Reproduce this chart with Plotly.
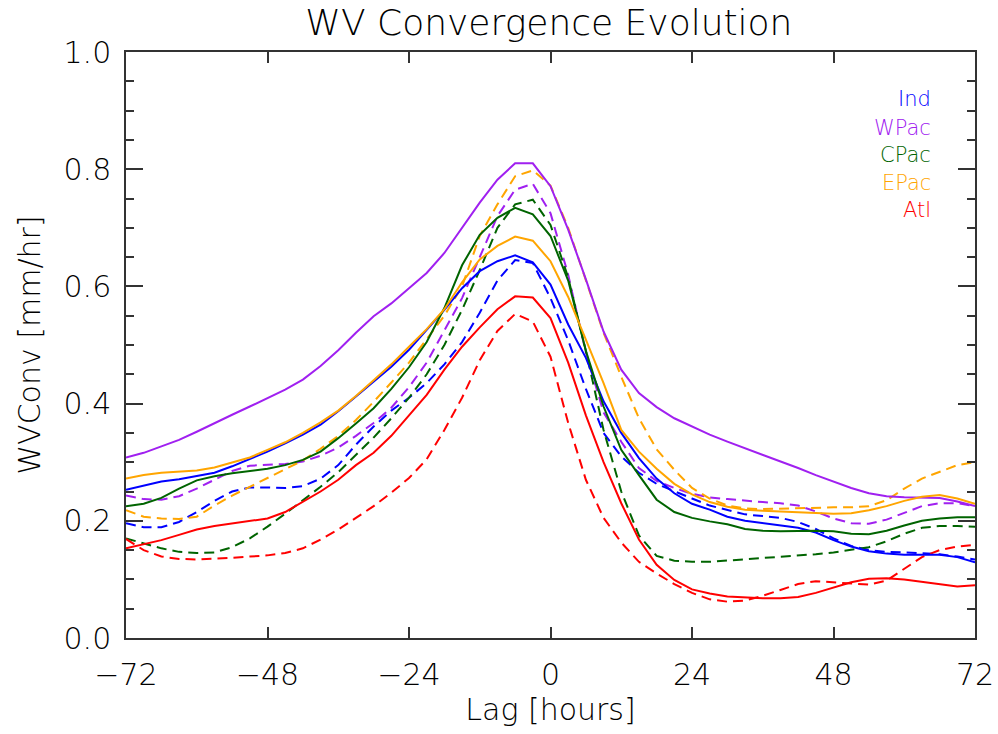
import plotly.graph_objects as go

lag = [-72, -69, -66, -63, -60, -57, -54, -51, -48, -45, -42, -39, -36, -33, -30, -27, -24,
       -21, -18, -15, -12, -9, -6, -3, 0, 3, 6, 9, 12, 15, 18, 21, 24, 27, 30, 33, 36, 39,
       42, 45, 48, 51, 54, 57, 60, 63, 66, 69, 72]

ind_solid = [.253, .260, .267, .271, .276, .282, .293, .305, .318, .332, .347, .364, .387, .412, .437,
             .463, .492, .526, .560, .597, .626, .643, .653, .641, .603, .535, .478, .404, .350, .307,
             .272, .247, .229, .219, .207, .200, .196, .193, .188, .180, .167, .156, .148, .144, .142,
             .142, .142, .138, .129]
ind_dash = [.196, .189, .189, .198, .215, .234, .250, .257, .257, .256, .259, .272, .295, .330, .361,
            .388, .410, .435, .467, .505, .555, .610, .645, .640, .580, .508, .425, .350, .310, .282,
            .263, .250, .238, .226, .219, .211, .208, .205, .198, .186, .170, .157, .150, .147, .146,
            .145, .143, .139, .134]

wpac_solid = [.308, .316, .327, .338, .352, .367, .381, .395, .410, .424, .441, .464, .491, .521, .549,
              .571, .597, .623, .657, .700, .743, .782, .810, .810, .771, .697, .612, .523, .458, .418,
              .394, .375, .361, .347, .335, .324, .313, .302, .290, .278, .267, .256, .247, .242, .240,
              .239, .239, .233, .225]
wpac_dash = [.243, .237, .236, .242, .255, .270, .285, .294, .296, .297, .301, .311, .325, .345, .367,
             .393, .428, .470, .525, .580, .650, .720, .765, .775, .725, .620, .487, .385, .335, .290,
             .268, .256, .246, .240, .237, .234, .232, .230, .226, .216, .204, .196, .195, .202, .213,
             .225, .230, .230, .225]

cpac_solid = [.225, .229, .239, .255, .269, .276, .281, .285, .289, .295, .304, .318, .341, .366, .392,
              .425, .462, .505, .563, .636, .688, .717, .734, .723, .686, .610, .490, .395, .321, .278,
              .236, .215, .205, .199, .194, .186, .183, .182, .183, .183, .182, .178, .177, .183, .192,
              .200, .204, .206, .206]
cpac_dash = [.170, .162, .153, .147, .145, .146, .155, .170, .190, .212, .235, .258, .283, .312, .342,
             .375, .410, .450, .500, .560, .628, .700, .740, .748, .705, .615, .490, .355, .250, .175,
             .140, .132, .130, .130, .132, .134, .136, .138, .140, .143, .146, .150, .155, .165, .178,
             .188, .191, .191, .190]

epac_solid = [.272, .278, .282, .284, .286, .291, .299, .308, .321, .334, .350, .368, .388, .413, .440,
              .467, .497, .527, .561, .607, .646, .669, .685, .678, .643, .582, .509, .435, .355, .318,
              .289, .263, .245, .232, .224, .219, .217, .216, .215, .213, .212, .213, .218, .225, .234,
              .241, .244, .238, .229]
epac_dash = [.218, .207, .204, .203, .207, .226, .243, .258, .272, .287, .303, .323, .345, .372, .403,
             .436, .470, .510, .550, .600, .686, .740, .788, .798, .772, .700, .610, .521, .446, .375,
             .322, .287, .256, .238, .226, .221, .220, .221, .222, .222, .223, .223, .225, .235, .255,
             .272, .284, .295, .300]

atl_solid = [.153, .160, .167, .176, .185, .191, .195, .199, .204, .215, .232, .250, .270, .295, .316,
             .345, .380, .415, .458, .497, .530, .561, .583, .581, .546, .470, .380, .300, .230, .168,
             .125, .099, .083, .076, .071, .069, .068, .068, .070, .077, .086, .095, .101, .102, .100,
             .096, .091, .088, .090]
atl_dash = [.169, .150, .139, .135, .134, .135, .137, .139, .141, .145, .153, .168, .185, .205, .225,
            .248, .273, .305, .355, .410, .474, .524, .553, .540, .480, .367, .270, .205, .163, .130,
            .110, .092, .077, .066, .062, .064, .072, .082, .092, .097, .095, .092, .091, .098, .118,
            .138, .150, .156, .159]

regions = ["Ind", "WPac", "CPac", "EPac", "Atl"]
colors = ["#0000FF", "#A020F0", "#006400", "#FFA500", "#FF0000"]
solid_series = [ind_solid, wpac_solid, cpac_solid, epac_solid, atl_solid]
dash_series = [ind_dash, wpac_dash, cpac_dash, epac_dash, atl_dash]

x_ticks = [-72, -48, -24, 0, 24, 48, 72]
y_ticks = [0.0, 0.2, 0.4, 0.6, 0.8, 1.0]

FONT = "DejaVu Sans"
W = 200

fig = go.Figure()
for name, col, ys in zip(regions, colors, dash_series):
    fig.add_trace(go.Scatter(x=lag, y=ys, mode="lines", name=name + " (dash)",
                             line=dict(color=col, width=2, dash="10px,6px"), showlegend=False))
for name, col, ys in zip(regions, colors, solid_series):
    fig.add_trace(go.Scatter(x=lag, y=ys, mode="lines", name=name,
                             line=dict(color=col, width=2), showlegend=False))

# legend-like labels at top right
leg_y = [0.919, 0.871, 0.825, 0.777, 0.731]
for name, col, yy in zip(regions, colors, leg_y):
    fig.add_annotation(x=0.951, y=yy, xref="paper", yref="paper", text=name,
                       showarrow=False, xanchor="right", yanchor="middle",
                       font=dict(family=FONT, size=21, color=col, weight=W))

axis_common = dict(showline=True, linecolor="#333333", linewidth=1.5, mirror="ticks",
                   ticks="inside", tickcolor="#333333", showgrid=False, zeroline=False,
                   automargin=False,
                   tickfont=dict(family=FONT, size=30, color="black", weight=W))

fig.update_xaxes(range=[-72, 72], tickvals=x_ticks, ticklen=11, tickwidth=1.5,
                 ticklabelstandoff=9,
                 title=dict(text="Lag [hours]", font=dict(family=FONT, size=30, color="black", weight=W),
                            standoff=6),
                 **axis_common)
fig.update_yaxes(range=[0, 1.0], tickvals=y_ticks, tickformat=".1f", ticklen=17, tickwidth=1.5,
                 ticklabelstandoff=7,
                 minor=dict(dtick=0.05, ticklen=8, tickcolor="#333333", tickwidth=1.5, ticks="inside",
                            showgrid=False),
                 title=dict(text="WVConv [mm/hr]", font=dict(family=FONT, size=30, color="black", weight=W),
                            standoff=14),
                 **axis_common)

fig.update_layout(
    width=998, height=734,
    margin=dict(l=126, r=23, t=52, b=96, autoexpand=False),
    paper_bgcolor="white", plot_bgcolor="white",
    title=dict(text="WV Convergence Evolution", x=0.55, xanchor="center", y=0.97, yanchor="middle",
               font=dict(family=FONT, size=36, color="black", weight=W)),
)

fig.write_html("out.html")
